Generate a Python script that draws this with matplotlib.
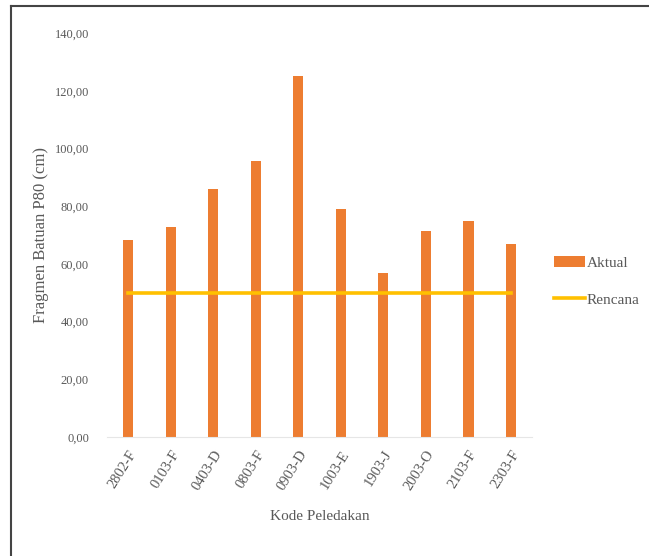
import matplotlib.pyplot as plt
from matplotlib.lines import Line2D
from matplotlib.ticker import FuncFormatter
import numpy as np

plt.rcParams['font.family'] = ['Liberation Serif', 'DejaVu Serif']

# Fragmentasi P80 per kode peledakan
kode = ["2802-F", "0103-F", "0403-D", "0803-F", "0903-D",
        "1003-E", "1903-J", "2003-O", "2103-F", "2303-F"]
aktual = [68.3, 72.8, 85.8, 95.6, 125.0, 79.0, 56.9, 71.4, 75.0, 66.9]
rencana = [50.0] * len(kode)

bar_color = "#ED7D31"
line_color = "#FFC000"
text_color = "#595959"

fig = plt.figure(figsize=(6.49, 5.56), dpi=100)
ax = fig.add_axes([0.165, 0.214, 0.655, 0.7266])

x = np.arange(len(kode))
ax.bar(x, aktual, width=0.24, color=bar_color, label="Aktual", zorder=2)
ax.plot(x, rencana, color=line_color, lw=2.6, label="Rencana", zorder=3)

ax.set_xlim(-0.5, len(kode) - 0.5)
ax.set_ylim(0, 140)
ax.set_yticks(np.arange(0, 141, 20))
ax.yaxis.set_major_formatter(FuncFormatter(lambda v, p: f"{v:.2f}".replace(".", ",")))
ax.set_xticks(x)
ax.set_xticklabels(kode, rotation=58, ha="right", rotation_mode="anchor", fontsize=10.5)

for s in ["top", "right", "left"]:
    ax.spines[s].set_visible(False)
ax.spines["bottom"].set_color("#E6E6E6")
ax.tick_params(axis="both", length=0, colors=text_color)
ax.tick_params(axis="y", pad=13, labelsize=9)
ax.tick_params(axis="x", pad=8)

ax.set_ylabel("Fragmen Batuan P80 (cm)", color=text_color, fontsize=12, labelpad=4)
ax.set_xlabel("Kode Peledakan", color=text_color, fontsize=11, labelpad=12)

handles, labels = ax.get_legend_handles_labels()
order = [labels.index("Aktual"), labels.index("Rencana")]
ax.legend([handles[i] for i in order], [labels[i] for i in order],
          loc="center left", bbox_to_anchor=(1.02, 0.385), frameon=False,
          fontsize=11, labelcolor=text_color, handlelength=2.0,
          handletextpad=0.1, labelspacing=1.5)

# bingkai luar gambar (atas dan kiri)
fig.add_artist(Line2D([11 / 649, 1], [1 - 5.5 / 556] * 2, color="#444444", lw=1.5))
fig.add_artist(Line2D([11 / 649] * 2, [0, 1 - 5.5 / 556], color="#444444", lw=1.5))

fig.savefig("out.png", dpi=100)
